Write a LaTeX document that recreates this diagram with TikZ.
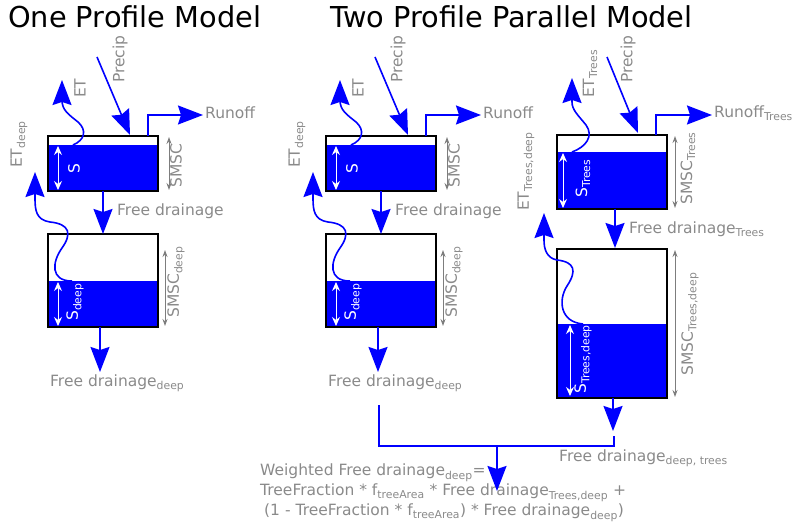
\documentclass[tikz,border=0pt]{standalone}
\usepackage{fontspec}
\setmainfont{DejaVu Sans}
\usetikzlibrary{arrows.meta}
\definecolor{lblgray}{RGB}{138,138,138}
\definecolor{capgray}{RGB}{125,125,125}
\newcommand\lblfont{\fontsize{15.5}{20}\selectfont}
\newcommand\titlefont{\fontsize{28.8}{34}\selectfont}
\tikzset{
	flow/.style={draw=blue, line width=1.6pt, -{Stealth[length=25pt,width=19pt,inset=3pt]}},
	pipe/.style={draw=blue, line width=1.6pt},
	water/.style={fill=blue},
	box/.style={draw=black, line width=1.6pt},
	capline/.style={draw=capgray, line width=1pt, {Stealth[length=7pt,width=5pt]}-{Stealth[length=7pt,width=5pt]}},
	stor/.style={draw=white, line width=1pt, {Stealth[length=9pt,width=8pt]}-{Stealth[length=9pt,width=8pt]}},
	lbl/.style={text=lblgray, font=\lblfont, inner sep=0pt, anchor=west},
	vlbl/.style={lbl, rotate=90},
	slbl/.style={text=white, font=\lblfont, inner sep=0pt, anchor=west, rotate=90},
	heading/.style={font=\titlefont, inner sep=0pt, anchor=base west}
}
% soil bucket: left, top, right, bottom, water level
\def\bucket#1#2#3#4#5{\fill[water] (#1,#5) rectangle (#3,#4); \draw[box] (#1,#2) rectangle (#3,#4);}
% one profile column: xshift, name suffix
\def\oneprofile#1#2{%
	\begin{scope}[xshift=#1pt]
		\bucket{48}{136}{158}{191}{145}
		\bucket{48}{234}{158}{327}{281}
		
		\coordinate (rain#2) at (97,57);
		\coordinate (top#2) at (130,135);
		\draw[flow] (rain#2) -- (top#2);
		\node[vlbl] (precip#2) at (120,83) {Precip};
		
		\coordinate (surf#2) at (73,145);
		\coordinate (air#2) at (62,80);
		\draw[flow] (surf#2) .. controls (85,140) and (87,130) .. (78,122) .. controls (68,114) and (62,110) .. (62,100) -- (air#2);
		\node[vlbl] (et#2) at (80,98) {ET};
		
		\coordinate (spill#2) at (148,136);
		\coordinate (off#2) at (203,115);
		\draw[flow] (spill#2) |- (off#2);
		\node[lbl] (runoff#2) at (205,113) {Runoff};
		
		\draw[capline] (169,137) -- (169,190);
		\node[vlbl] (smsc#2) at (176,188) {SMSC};
		\draw[stor] (58,146) -- (58,190);
		\node[slbl] (s#2) at (74,174) {S};
		
		\coordinate (bot#2) at (103,191);
		\coordinate (low#2) at (103,234);
		\draw[flow] (bot#2) -- (low#2);
		\node[lbl] (fd#2) at (117,211) {Free drainage};
		
		\coordinate (dsurf#2) at (72,281);
		\coordinate (dair#2) at (35,172);
		\draw[flow] (dsurf#2) .. controls (50,281) and (52,262) .. (62,248) .. controls (72,234) and (70,224) .. (50,222) .. controls (36,220) and (35,210) .. (35,198) -- (dair#2);
		\node[vlbl] (etd#2) at (19,168) {ET\textsubscript{deep}};
		
		\draw[capline] (165,250) -- (165,326);
		\node[vlbl] (smscd#2) at (176,318) {SMSC\textsubscript{deep}};
		\draw[stor] (58,282) -- (58,326);
		\node[slbl] (sd#2) at (75,321) {S\textsubscript{deep}};
		
		\coordinate (dbot#2) at (100,327);
		\coordinate (dout#2) at (100,372);
		\draw[flow] (dbot#2) -- (dout#2);
		\node[lbl] (fdd#2) at (50,383) {Free drainage\textsubscript{deep}};
	\end{scope}}

\begin{document}
\begin{tikzpicture}[x=1pt,y=-1pt]
	%%%%% START %%%%%
	\useasboundingbox (0,0) rectangle (794,529);
	
	\node[heading] (one) at (8,28) {One Profile Model};
	\node[heading] (two) at (330,28) {Two Profile Parallel Model};
	
	\oneprofile{0}{a}
	\oneprofile{278}{b}
	
	% tree profile
	\bucket{557}{135}{667}{209}{152}
	\bucket{557}{249}{667}{398}{324}
	
	\coordinate (raint) at (607,57);
	\coordinate (topt) at (638,133);
	\draw[flow] (raint) -- (topt);
	\node[vlbl] (precipt) at (628,83) {Precip};
	
	\coordinate (surft) at (572,152);
	\coordinate (airt) at (572,78);
	\draw[flow] (surft) .. controls (586,147) and (594,136) .. (586,125) .. controls (578,115) and (572,110) .. (572,102) -- (airt);
	\node[vlbl] (ett) at (590,98) {ET\textsubscript{Trees}};
	
	\coordinate (spillt) at (656,135);
	\coordinate (offt) at (712,115);
	\draw[flow] (spillt) |- (offt);
	\node[lbl] (runofft) at (714,113) {Runoff\textsubscript{Trees}};
	
	\draw[capline] (675,136) -- (675,208);
	\node[vlbl] (smsct) at (688,205) {SMSC\textsubscript{Trees}};
	\draw[stor] (563,153) -- (563,208);
	\node[slbl] (st) at (583,198) {S\textsubscript{Trees}};
	
	\coordinate (bott) at (615,209);
	\coordinate (lowt) at (615,248);
	\draw[flow] (bott) -- (lowt);
	\node[lbl] (fdt) at (629,229) {Free drainage\textsubscript{Trees}};
	
	\coordinate (dsurft) at (583,324);
	\coordinate (dairt) at (544,213);
	\draw[flow] (dsurft) .. controls (560,322) and (558,300) .. (567,286) .. controls (577,271) and (575,262) .. (557,260) .. controls (546,258) and (544,248) .. (544,240) -- (dairt);
	\node[vlbl] (etdt) at (526,211) {ET\textsubscript{Trees,deep}};
	
	\draw[capline] (675,250) -- (675,397);
	\node[vlbl] (smscdt) at (690,376) {SMSC\textsubscript{Trees,deep}};
	\draw[stor] (570,325) -- (570,396);
	\node[slbl] (sdt) at (583,394) {S\textsubscript{Trees,deep}};
	
	\coordinate (dbott) at (613,398);
	\coordinate (doutt) at (613,431);
	\draw[flow] (dbott) -- (doutt);
	\node[lbl] (fddt) at (559,458) {Free drainage\textsubscript{deep, trees}};
	
	% weighting of both deep drainages
	\coordinate (from1) at (379,405);
	\coordinate (from2) at (614,436);
	\coordinate (mid) at (497,446);
	\coordinate (res) at (497,491);
	\draw[pipe] (from1) |- (mid) -| (from2);
	\node[lbl, anchor=north west, align=left] (weight) at (260,464) {Weighted Free drainage\textsubscript{deep}=\\TreeFraction * f\textsubscript{treeArea} * Free drainage\textsubscript{Trees,deep} +\\\hspace{4pt}(1 - TreeFraction * f\textsubscript{treeArea}) * Free drainage\textsubscript{deep})};
	\draw[flow] (mid) -- (res);
	
	%%%%% END %%%%%
\end{tikzpicture}
\end{document}
